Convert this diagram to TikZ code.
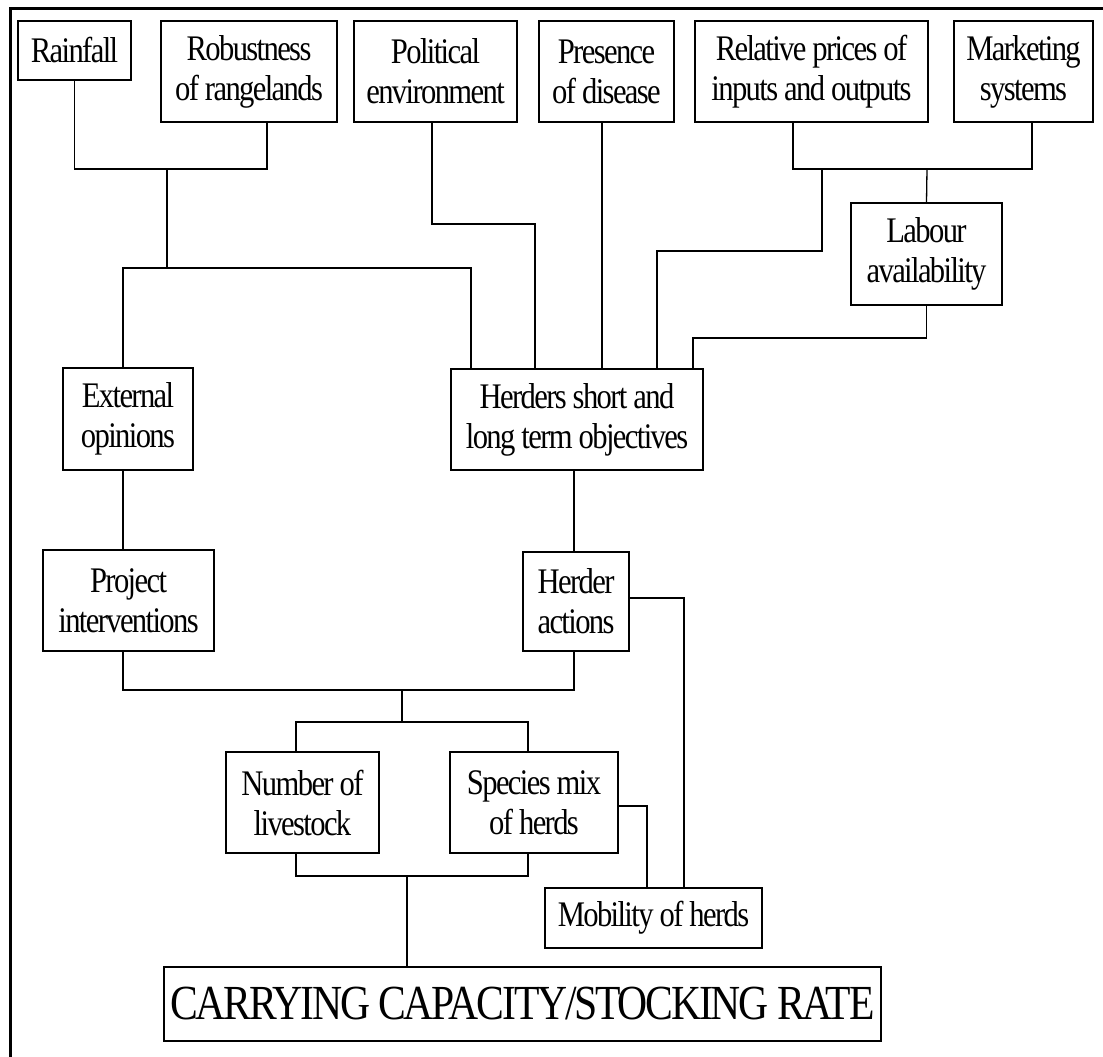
\documentclass[tikz,border=0pt]{standalone}
\usepackage{fontspec}
\setmainfont[FakeStretch=0.85, LetterSpace=-4.5]{Liberation Serif}
\begin{document}
\begin{tikzpicture}[x=1pt, y=-1pt, line width=1.3pt,
    factor/.style={draw, inner sep=0pt, align=center,
      font=\fontsize{36}{40}\selectfont}]
    \useasboundingbox (0,0) rectangle (1103,1057);
    \draw[line width=3pt] (1103,8.5) -- (10.5,8.5) -- (10.5,1057);
    % top row
    \node[factor, minimum width=113, minimum height=59] (rain) at (74.5,50.5) {Rainfall};
    \node[factor, minimum width=176, minimum height=101] (robust) at (249,71.5) {Robustness\\of rangelands};
    \node[factor, minimum width=163, minimum height=101] (polit) at (435.5,71.5) {Political\\environment};
    \node[factor, minimum width=135, minimum height=101] (disease) at (606.5,71.5) {Presence\\of disease};
    \node[factor, minimum width=233, minimum height=101] (prices) at (811.5,71.5) {Relative prices of\\inputs and outputs};
    \node[factor, minimum width=139, minimum height=101] (market) at (1023.5,71.5) {Marketing\\systems};
    \node[factor, minimum width=151, minimum height=102] (labour) at (926.5,254) {Labour\\availability};
    % middle
    \node[factor, minimum width=130, minimum height=102] (extern) at (128,419) {External\\opinions};
    \node[factor, minimum width=252, minimum height=101] (herders) at (577,419.5) {Herders short and\\long term objectives};
    \node[factor, minimum width=171, minimum height=101] (project) at (128.5,600.5) {Project\\interventions};
    \node[factor, minimum width=106, minimum height=99] (actions) at (576,601.5) {Herder\\actions};
    % bottom
    \node[factor, minimum width=153, minimum height=101] (number) at (302.5,802.5) {Number of\\livestock};
    \node[factor, minimum width=168, minimum height=101] (species) at (534,802.5) {Species mix\\of herds};
    \node[factor, minimum width=217, minimum height=60] (mobility) at (653.5,918) {Mobility of herds};
    \node[factor, minimum width=717, minimum height=74, font=\fontsize{49}{52}\selectfont] (carry) at (522.5,1004) {CARRYING CAPACITY/STOCKING RATE};
    \coordinate (j1) at (167,169);
    \coordinate (j2) at (167,268);
    \coordinate (j3) at (535,224);
    \coordinate (j4) at (927,169);
    \coordinate (j5) at (822,169);
    \coordinate (j6) at (822,251);
    \coordinate (j7) at (926.5,338);
    \coordinate (j8) at (402,690);
    \coordinate (j9) at (402,722);
    \coordinate (j10) at (407,876);
    \draw (rain.south) |- (j1) -| ([xshift=18pt]robust.south);
    \draw (j1) -- (j2);
    \draw ([xshift=-5pt]extern.north) |- (j2) -| ([xshift=-106pt]herders.north);
    \draw ([xshift=-3.5pt]polit.south) |- (j3) -- ([xshift=-42pt]herders.north);
    \draw ([xshift=-4.5pt]disease.south) -- ([xshift=25pt]herders.north);
    \draw ([xshift=-18.5pt]prices.south) |- (j4) -| ([xshift=8.5pt]market.south);
    \draw (j4) -- (labour.north);
    \draw (j5) -- (j6) -| ([xshift=80pt]herders.north);
    \draw (labour.south) -- (j7) -| ([xshift=116pt]herders.north);
    \draw ([xshift=-5pt]extern.south) -- ([xshift=-5.5pt]project.north);
    \draw ([xshift=-3pt]herders.south) -- ([xshift=-2pt]actions.north);
    \draw ([xshift=-5.5pt]project.south) |- (j8) -| ([xshift=-2pt]actions.south);
    \draw (j8) -- (j9);
    \draw ([xshift=-6.5pt]number.north) |- (j9) -| ([xshift=-6pt]species.north);
    \draw ([yshift=3.5pt]actions.east) -| ([xshift=30.5pt]mobility.north);
    \draw ([yshift=-3.5pt]species.east) -| ([xshift=-6.5pt]mobility.north);
    \draw ([xshift=-6.5pt]number.south) |- (j10) -| ([xshift=-6pt]species.south);
    \draw (j10) -- ([xshift=-115.5pt]carry.north);
\end{tikzpicture}
\end{document}
